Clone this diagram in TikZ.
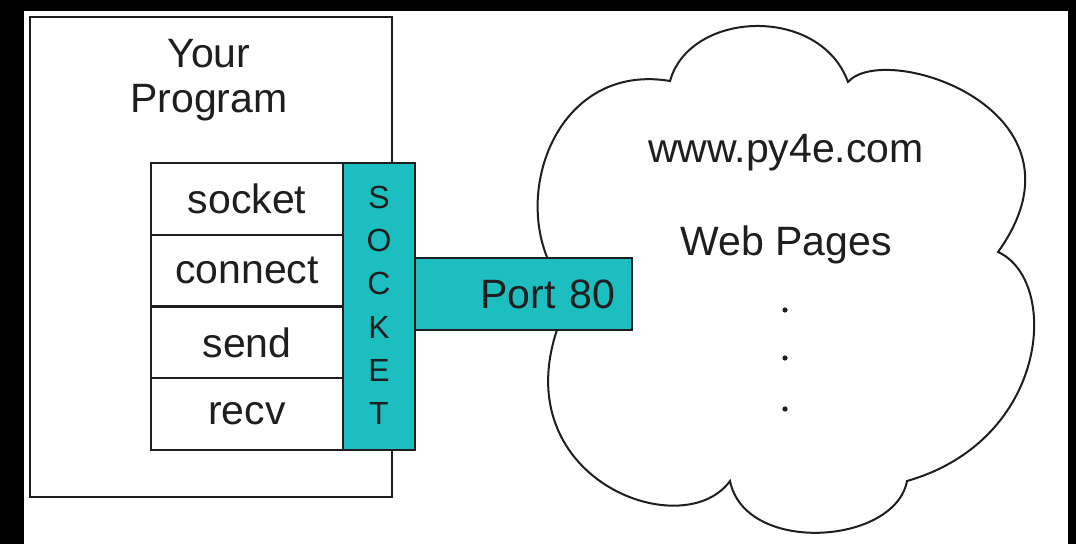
\documentclass[tikz,border=0pt]{standalone}
\usepackage{fontspec}
\setmainfont{Liberation Sans}
\usepackage{tikz}
\pgfdeclarelayer{bglayer}
\pgfdeclarelayer{edgelayer}
\pgfdeclarelayer{nodelayer}
\pgfsetlayers{bglayer,edgelayer,nodelayer,main}
\definecolor{socketteal}{RGB}{28,190,192}
\definecolor{inkgray}{RGB}{30,30,30}
\tikzstyle{none}=[inner sep=0pt]
\tikzstyle{myText}=[inner sep=0pt, text=inkgray, font=\fontsize{20.5}{22.5}\selectfont, align=center]
\tikzstyle{program_box}=[fill=white, draw=inkgray, line width=1pt, shape=rectangle, minimum width=181pt, minimum height=240pt]
\tikzstyle{call_box}=[fill=white, draw=inkgray, text=inkgray, line width=1pt, shape=rectangle, minimum width=96pt, minimum height=35.875pt, inner sep=0pt, font=\fontsize{20.5}{22.5}\selectfont]
\tikzstyle{socket_strip}=[fill=socketteal, draw=inkgray, line width=1pt, shape=rectangle, minimum width=36pt, minimum height=143.5pt]
\tikzstyle{socket_letter}=[inner sep=0pt, text=inkgray, font=\fontsize{16}{16}\selectfont]
\tikzstyle{port_box}=[fill=socketteal, draw=inkgray, text=inkgray, line width=1pt, shape=rectangle, minimum width=108.5pt, minimum height=36pt, inner xsep=8.5pt, text width=91.5pt, align=right, font=\fontsize{20.5}{22.5}\selectfont]
\tikzstyle{ellipsis}=[fill=inkgray, draw=none, shape=circle, inner sep=0pt, minimum size=2.6pt]
\tikzstyle{cloud_outline}=[-, draw=inkgray, line width=1pt]

\begin{document}
\begin{tikzpicture}[x=0.5pt, y=-0.5pt]
    \useasboundingbox (0,0) rectangle (1076,544);
    \begin{pgfonlayer}{bglayer}
        % black frame round the page
        \fill [black] (0,0) rectangle (1076,544);
        \fill [white] (24,11) rectangle (1068,544);
    \end{pgfonlayer}
    \begin{pgfonlayer}{nodelayer}
        % program side
        \node [style={program_box}] (0) at (211, 257) {};
        \node [style=myText] (1) at (209, 80) {Your\\Program};

        % calls
        \node [style={call_box}] (2) at (247, 198.9) {socket};
        \node [style={call_box}] (3) at (247, 270.6) {connect};
        \node [style={call_box}] (4) at (247, 342.4) {send};
        \node [style={call_box}] (5) at (247, 414.1) {recv};

        % socket strip
        \node [style={socket_strip}] (6) at (379, 306.5) {};
        \node [style={socket_letter}] (7) at (379, 197) {S};
        \node [style={socket_letter}] (8) at (379, 240) {O};
        \node [style={socket_letter}] (9) at (379, 283) {C};
        \node [style={socket_letter}] (10) at (379, 327) {K};
        \node [style={socket_letter}] (11) at (379, 370) {E};
        \node [style={socket_letter}] (12) at (379, 413) {T};

        % port
        \node [style={port_box}] (13) at (523.5, 294) {Port 80};

        % server side
        \node [style=myText] (14) at (786, 153) {www.py4e.com};
        \node [style=myText] (15) at (786, 245) {Web Pages};
        \node [style=ellipsis] (16) at (785, 310) {};
        \node [style=ellipsis] (17) at (785, 358) {};
        \node [style=ellipsis] (18) at (785, 409) {};
    \end{pgfonlayer}
    \begin{pgfonlayer}{edgelayer}
        % cloud
        \draw [style={cloud_outline}] (572,295) .. controls (500,225) and (545,60) .. (670,81)
            .. controls (690,10) and (820,5) .. (848,82)
            .. controls (885,40) and (1100,110) .. (998,252)
            .. controls (1060,280) and (1050,440) .. (907,481)
            .. controls (895,545) and (745,555) .. (730,481)
            .. controls (680,550) and (480,470) .. (572,295);
    \end{pgfonlayer}
\end{tikzpicture}
\end{document}
